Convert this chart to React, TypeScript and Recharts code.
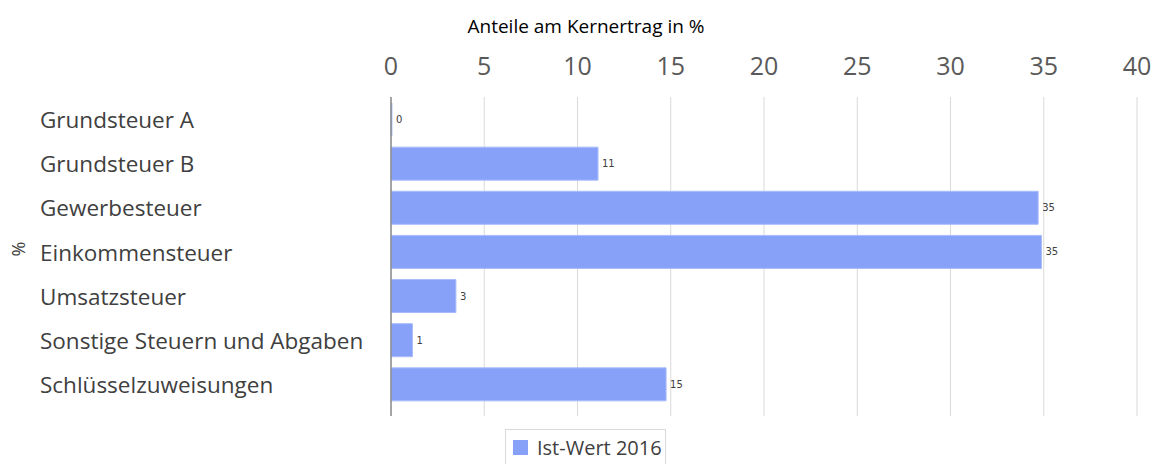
import { BarChart, Bar, XAxis, YAxis, CartesianGrid, Legend, LabelList } from "recharts";

const categories = [
  "Grundsteuer A",
  "Grundsteuer B",
  "Gewerbesteuer",
  "Einkommensteuer",
  "Umsatzsteuer",
  "Sonstige Steuern und Abgaben",
  "Schlüsselzuweisungen",
];
const istWert2016 = [0.05, 11.1, 34.7, 34.88, 3.48, 1.15, 14.75];
const xTicks = [0, 5, 10, 15, 20, 25, 30, 35, 40];

const data = categories.map((name, i) => ({ name, value: istWert2016[i] }));

const FONT = "'Open Sans', 'Noto Sans', sans-serif";
const BAR = "#87a1f9";

function CategoryTick({ y, payload }: any) {
  return (
    <text x={40} y={y} dy={9} textAnchor="start" fontSize={22.5} fill="#404040" fontFamily={FONT}>
      {payload.value}
    </text>
  );
}

function ValueTick({ x, payload }: any) {
  return (
    <text x={x} y={75} textAnchor="middle" fontSize={25} fill="#595959" fontFamily={FONT}>
      {payload.value}
    </text>
  );
}

function LegendBox() {
  return (
    <div style={{
      position: "absolute", left: 505, top: 429, width: 161, height: 36,
      border: "1px solid #d9d9d9", boxSizing: "border-box", background: "#fff",
      display: "flex", alignItems: "center", fontFamily: FONT,
    }}>
      <div style={{ width: 15, height: 15, background: BAR, marginLeft: 7, marginRight: 9 }} />
      <span style={{ fontSize: 20, color: "#404040" }}>Ist-Wert 2016</span>
    </div>
  );
}

export default function App() {
  return (
    <div style={{ position: "absolute", left: 0, top: 0, width: 1152, height: 464, background: "#fff" }}>
      <div style={{
        position: "absolute", left: 0, width: 1172, top: 13, textAlign: "center",
        fontFamily: FONT, fontSize: 19, color: "#000",
      }}>
        Anteile am Kernertrag in %
      </div>
      <BarChart
        width={1152} height={464} data={data} layout="vertical"
        margin={{ top: 40, right: 15, bottom: 48, left: 0 }}
      >
        <CartesianGrid horizontal={false} stroke="#d9d9d9" />
        <XAxis
          type="number" orientation="top" domain={[0, 40]} ticks={xTicks}
          height={57} axisLine={false} tickLine={false} tick={<ValueTick />}
        />
        <YAxis
          type="category" dataKey="name" width={391}
          padding={{ top: 0, bottom: 10 }}
          axisLine={{ stroke: "#8c8c8c", strokeWidth: 1.5 }} tickLine={false}
          tick={<CategoryTick />}
          label={{ value: "%", angle: -90, position: "insideLeft", offset: 19, fontSize: 18, fill: "#404040", fontFamily: FONT }}
        />
        <Legend content={() => null} />
        <Bar dataKey="value" fill={BAR} stroke="#a9bcfb" strokeWidth={1} barSize={33} isAnimationActive={false}>
          <LabelList
            dataKey="value" position="right" offset={4} fontSize={10} fill="#404040"
            fontFamily="'DejaVu Sans', sans-serif"
            formatter={(v: any) => Math.round(Number(v))}
          />
        </Bar>
      </BarChart>
      <LegendBox />
    </div>
  );
}
